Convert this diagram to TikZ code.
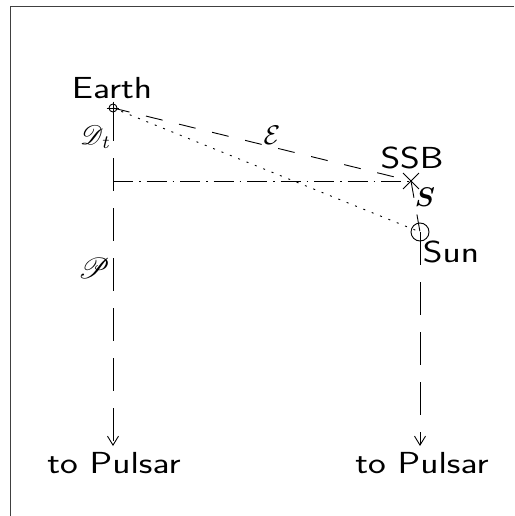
\documentclass[tikz,border=0pt]{standalone}
\usepackage{amsmath}
\usepackage{mathrsfs}
\usepackage{bm}
\usetikzlibrary{arrows.meta, shapes.misc}

\newcommand{\wide}[1]{\scalebox{1.3}[1.05]{#1}}
\newcommand{\symbig}[2][2.7]{\scalebox{#1}{#2}}

\begin{document}
\begin{tikzpicture}[x=1pt, y=-1pt,
    lbl/.style={font=\sffamily\fontsize{29}{29}\selectfont, inner sep=0pt, anchor=base},
    sym/.style={inner sep=0pt},
    pulsarline/.style={line width=0.9pt, dash pattern=on 33pt off 17pt, -{Straight Barb[length=9pt, width=11pt]}},
    vecline/.style={line width=0.9pt, dash pattern=on 17pt off 17pt},
    projline/.style={line width=0.9pt, dash pattern=on 20pt off 6pt on 1.5pt off 6pt},
    sunline/.style={line width=0.9pt, dash pattern=on 2pt off 7pt},
    marker/.style={draw, line width=0.9pt, inner sep=0pt}
]
\useasboundingbox (0,0) rectangle (514,516);

% frame
\draw[black!75, line width=1pt] (514,7) -- (10,7) -- (10,516);

% points
\coordinate (earth) at (113,108);
\coordinate (ssb) at (411,181);
\coordinate (sun) at (420,232);
\coordinate (foot) at (113,181);
\coordinate (psrA) at (113,446);
\coordinate (psrB) at (420,446);

% markers
\node[marker, circle, minimum size=8pt] (earthmark) at (earth) {};
\draw[line width=0.9pt] ([xshift=-2pt]earthmark.west) -- ([xshift=2pt]earthmark.east);
\draw[line width=0.9pt] ([yshift=2pt]earthmark.north) -- ([yshift=-2pt]earthmark.south);
\node[marker, circle, minimum size=18pt] (sunmark) at (sun) {};
\node[marker, cross out, minimum size=15pt] (ssbmark) at (ssb) {};

% lines
\draw[pulsarline] (earth) -- (psrA);
\draw[pulsarline] (sun) -- (psrB);
\draw[vecline] (earth) -- (ssb);
\draw[vecline] (ssb) -- (sun);
\draw[projline] (foot) -- (ssb);
\draw[sunline] (earth) -- (sun);

% labels
\node[lbl] (earthlbl) at (112,99) {\wide{Earth}};
\node[lbl] (ssblbl) at (412,168) {\wide{SSB}};
\node[lbl] (sunlbl) at (451,262) {\wide{Sun}};
\node[lbl] (psrlblA) at (114,473) {\wide{to Pulsar}};
\node[lbl] (psrlblB) at (422,473) {\wide{to Pulsar}};
\node[sym] (dlbl) at (96,137) {\symbig{$\mathscr{D}_{\mathit{t}}$}};
\node[sym] (elbl) at (272,135) {\symbig{$\mathcal{E}$}};
\node[sym] (slbl) at (425,197) {\symbig{$\bm{S}$}};
\node[sym] (plbl) at (94,268) {\symbig[2.9]{$\bm{\mathscr{P}}$}};

\end{tikzpicture}
\end{document}
